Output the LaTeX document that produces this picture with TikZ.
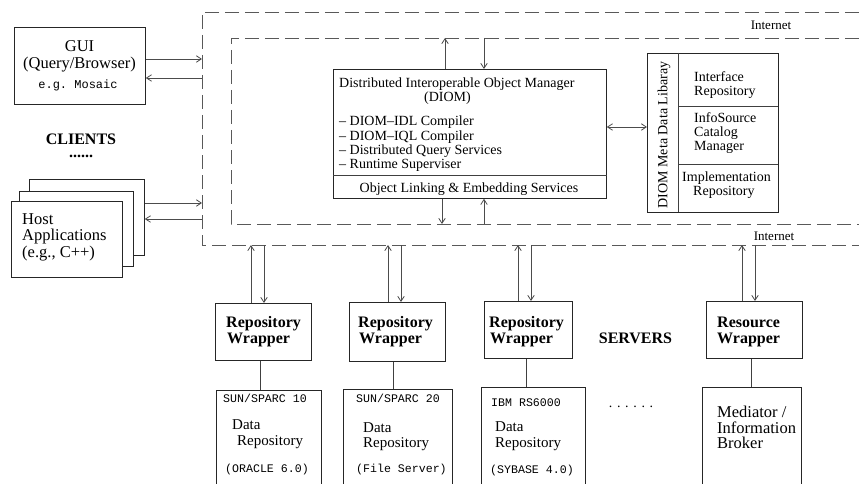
\documentclass[tikz,border=0pt]{standalone}
\usepackage{fontspec}
\setmainfont{Liberation Serif}
\setmonofont{Liberation Mono}
\usetikzlibrary{arrows.meta}
\newcommand\fsz[1]{\fontsize{#1}{#1}\selectfont}
\begin{document}
\begin{tikzpicture}[x=1pt,y=-1pt,
  box/.style={draw=black!85,line width=0.8pt,fill=white,inner sep=0pt,anchor=north west},
  openbox/.style={inner sep=0pt,anchor=north west},
  lbl/.style={inner sep=0pt,anchor=base west},
  lblc/.style={inner sep=0pt,anchor=base},
  arr/.style={draw=black!70,line width=0.8pt,-{Straight Barb[length=5pt,width=6.5pt]}},
  arrb/.style={draw=black!70,line width=0.8pt,{Straight Barb[length=5pt,width=6.5pt]}-{Straight Barb[length=5pt,width=6.5pt]}},
  plain/.style={draw=black!75,line width=0.8pt},
  frame/.style={draw=black!65,line width=0.8pt,dash pattern=on 14pt off 6pt}]
\useasboundingbox (0,0) rectangle (859,484);

% dashed frames
\draw[frame] (859,12) -- (202,12) -- (202,245) -- (859,245);
\draw[frame] (859,38) -- (231,38) -- (231,224) -- (859,224);
\coordinate (oL) at (202,0);
\coordinate (oB) at (0,245);
\coordinate (iT) at (0,38);
\coordinate (iB) at (0,224);
\node[lblc,font=\fsz{13}] (net1) at (771,30) {Internet};
\node[lblc,font=\fsz{13}] (net2) at (774,240) {Internet};

% GUI
\node[box,minimum width=131,minimum height=77] (gui) at (14,27) {};
\node[lblc,font=\fsz{16.5}] (gui1) at (79.5,52) {GUI};
\node[lblc,font=\fsz{16.5}] (gui2) at (79.5,69) {(Query/Browser)};
\node[lblc,font=\ttfamily\fsz{12}] (gui3) at (78,89) {e.g. Mosaic};
\draw[arr] (gui.east |- 0,59) -- (oL |- 0,59);
\draw[arr] (oL |- 0,78) -- (gui.east |- 0,78);

% CLIENTS
\node[inner sep=0pt,anchor=north,align=center,font=\bfseries\fontsize{16}{13.5}\selectfont] (clients) at (81,133.5) {CLIENTS\\......};

% Host applications (stack)
\node[box,minimum width=115,minimum height=76] (hback) at (29,179) {};
\node[box,minimum width=114,minimum height=75] (hmid) at (19,191) {};
\node[box,minimum width=111,minimum height=76] (hfront) at (11,201) {};
\node[lbl,font=\fsz{16.5}] (h1) at (22,224) {Host};
\node[lbl,font=\fsz{16.5}] (h2) at (22,240.5) {Applications};
\node[lbl,font=\fsz{16.5}] (h3) at (22,257) {(e.g., C++)};
\draw[arr] (hback.east |- 0,203) -- (oL |- 0,203);
\draw[arr] (oL |- 0,219) -- (hback.east |- 0,219);

% DIOM
\node[box,minimum width=273,minimum height=129] (diom) at (333,69) {};
\draw[plain] (diom.west |- 0,175) -- (diom.east |- 0,175);
\node[lbl,font=\fsz{14}] (d1) at (339,88) {Distributed Interoperable Object Manager};
\node[lblc,font=\fsz{14}] (d2) at (447.5,102) {(DIOM)};
\node[lbl,font=\fsz{14}] (d3) at (339,126) {-- DIOM--IDL Compiler};
\node[lbl,font=\fsz{14}] (d4) at (339,140) {-- DIOM--IQL Compiler};
\node[lbl,font=\fsz{14}] (d5) at (339,154) {-- Distributed Query Services};
\node[lbl,font=\fsz{14}] (d6) at (339,168) {-- Runtime Superviser};
\node[lblc,font=\fsz{14}] (d7) at (469,192) {Object Linking \& Embedding Services};
\draw[arr] (diom.north -| 445,0) -- (iT -| 445,0);
\draw[arr] (iT -| 484,0) -- (diom.north -| 484,0);
\draw[arr] (diom.south -| 442,0) -- (iB -| 442,0);
\draw[arr] (iB -| 484,0) -- (diom.south -| 484,0);

% Meta data library
\node[box,minimum width=131,minimum height=159] (meta) at (647,53) {};
\draw[plain] (678,53) -- (678,212);
\draw[plain] (678,106) -- (778,106);
\draw[plain] (678,164) -- (778,164);
\node[inner sep=0pt,rotate=90,font=\fsz{14}] (mlib) at (664,135) {DIOM Meta Data Libaray};
\node[lbl,font=\fsz{14}] (m1) at (694,82) {Interface};
\node[lbl,font=\fsz{14}] (m2) at (694,95.5) {Repository};
\node[lbl,font=\fsz{14}] (m3) at (694,123) {InfoSource};
\node[lbl,font=\fsz{14}] (m4) at (694,137) {Catalog};
\node[lbl,font=\fsz{14}] (m5) at (694,150.5) {Manager};
\node[lbl,font=\fsz{14}] (m6) at (682,181) {Implementation};
\node[lbl,font=\fsz{14}] (m7) at (693,195) {Repository};
\draw[arrb] (diom.east |- 0,127) -- (meta.west |- 0,127);

% Wrappers
\node[box,minimum width=96,minimum height=57] (w1) at (215,303) {};
\node[box,minimum width=96,minimum height=59] (w2) at (349,302) {};
\node[box,minimum width=88,minimum height=57] (w3) at (484,301) {};
\node[box,minimum width=96,minimum height=57] (w4) at (706,301) {};
\node[lbl,font=\bfseries\fsz{16}] (w1a) at (226,327) {Repository};
\node[lbl,font=\bfseries\fsz{16}] (w1b) at (227,343) {Wrapper};
\node[lbl,font=\bfseries\fsz{16}] (w2a) at (358,327) {Repository};
\node[lbl,font=\bfseries\fsz{16}] (w2b) at (359,343) {Wrapper};
\node[lbl,font=\bfseries\fsz{16}] (w3a) at (489,327) {Repository};
\node[lbl,font=\bfseries\fsz{16}] (w3b) at (490,343) {Wrapper};
\node[lbl,font=\bfseries\fsz{16}] (w4a) at (717,327) {Resource};
\node[lbl,font=\bfseries\fsz{16}] (w4b) at (717,343) {Wrapper};
\node[lblc,font=\bfseries\fsz{16}] (servers) at (635.5,343) {SERVERS};

\draw[arr] (w1.north -| 251,0) -- (oB -| 251,0);
\draw[arr] (oB -| 264,0) -- (w1.north -| 264,0);
\draw[arr] (w2.north -| 388,0) -- (oB -| 388,0);
\draw[arr] (oB -| 401,0) -- (w2.north -| 401,0);
\draw[arr] (w3.north -| 518,0) -- (oB -| 518,0);
\draw[arr] (oB -| 531,0) -- (w3.north -| 531,0);
\draw[arr] (w4.north -| 742,0) -- (oB -| 742,0);
\draw[arr] (oB -| 755,0) -- (w4.north -| 755,0);

% Data boxes (open at the bottom edge)
\node[openbox,minimum width=105,minimum height=94] (db1) at (216,390) {};
\node[openbox,minimum width=109,minimum height=95] (db2) at (343,389) {};
\node[openbox,minimum width=104,minimum height=97] (db3) at (481,387) {};
\node[openbox,minimum width=99,minimum height=97] (db4) at (702,387) {};
\foreach \b in {db1,db2,db3,db4}
  \draw[draw=black!85,line width=0.8pt] (\b.south west) -- (\b.north west) -- (\b.north east) -- (\b.south east);

\draw[plain] (w1.south -| 260,0) -- (db1.north -| 260,0);
\draw[plain] (w2.south -| 393,0) -- (db2.north -| 393,0);
\draw[plain] (w3.south -| 526,0) -- (db3.north -| 526,0);
\draw[plain] (w4.south -| 751,0) -- (db4.north -| 751,0);

\node[lbl,font=\ttfamily\fsz{11.6}] (t1a) at (223,402) {SUN/SPARC 10};
\node[lbl,font=\fsz{15}] (t1b) at (232,429) {Data};
\node[lbl,font=\fsz{15}] (t1c) at (237,445) {Repository};
\node[lbl,font=\ttfamily\fsz{11.6}] (t1d) at (225,472) {(ORACLE 6.0)};

\node[lbl,font=\ttfamily\fsz{11.6}] (t2a) at (356,402) {SUN/SPARC 20};
\node[lbl,font=\fsz{15}] (t2b) at (363,432) {Data};
\node[lbl,font=\fsz{15}] (t2c) at (363,447) {Repository};
\node[lbl,font=\ttfamily\fsz{11.6}] (t2d) at (356,472) {(File Server)};

\node[lbl,font=\ttfamily\fsz{11.6}] (t3a) at (491,406) {IBM RS6000};
\node[lbl,font=\fsz{15}] (t3b) at (495,431) {Data};
\node[lbl,font=\fsz{15}] (t3c) at (495,447) {Repository};
\node[lbl,font=\ttfamily\fsz{11.6}] (t3d) at (490,473) {(SYBASE 4.0)};

\node[lblc,font=\fsz{14}] (sdots) at (631,407) {. . . . . .};

\node[lbl,font=\fsz{16.5}] (t4a) at (717,417) {Mediator /};
\node[lbl,font=\fsz{16.5}] (t4b) at (717,433) {Information};
\node[lbl,font=\fsz{16.5}] (t4c) at (717,448) {Broker};
\end{tikzpicture}
\end{document}
